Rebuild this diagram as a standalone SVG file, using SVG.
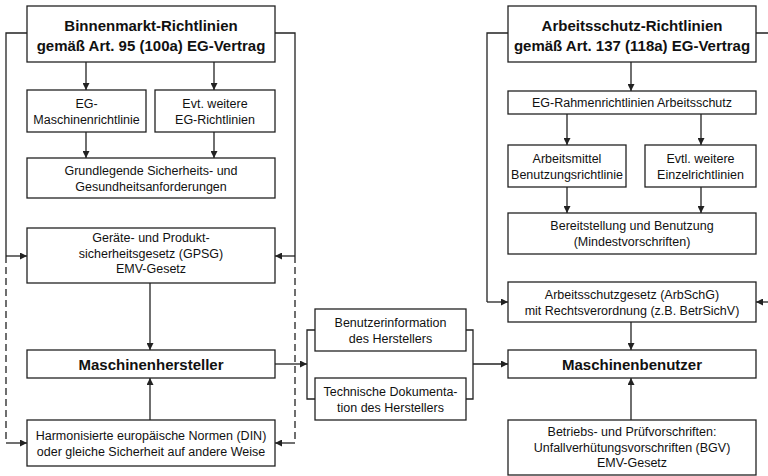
<svg xmlns="http://www.w3.org/2000/svg" width="768" height="476" viewBox="0 0 768 476">
<style>
.b{fill:#fff;stroke:#222;stroke-width:1.3}
.t{font-family:"Liberation Sans",Arial,sans-serif;font-size:12.5px;fill:#111;text-anchor:middle}
.h{font-family:"Liberation Sans",Arial,sans-serif;font-size:15px;font-weight:bold;fill:#111;text-anchor:middle}
.c{fill:none;stroke:#222;stroke-width:1.3}
.a{marker-end:url(#ah)}
.d{stroke-dasharray:7,4}
</style>
<defs>
<marker id="ah" viewBox="0 0 10 10" refX="10" refY="5" markerWidth="7" markerHeight="7" markerUnits="userSpaceOnUse" orient="auto">
<path d="M0,0L10,5L0,10z" fill="#222"/>
</marker>
</defs>
<g id="connectors">
<!-- left side -->
<path class="c" d="M27,33H6V256"/>
<path class="c a" d="M6,256H27"/>
<path class="c d" d="M6,256V443"/>
<path class="c a" d="M6,443H27"/>
<path class="c" d="M275,33H295V256"/>
<path class="c a" d="M295,256H275"/>
<path class="c d" d="M295,256V443"/>
<path class="c a" d="M295,443H275"/>
<path class="c a" d="M86,62V90"/>
<path class="c a" d="M214,62V90"/>
<path class="c a" d="M86,132V158"/>
<path class="c a" d="M214,132V158"/>
<path class="c a" d="M150,283V350"/>
<path class="c a" d="M150,420V378"/>
<path class="c a" d="M275,364H307"/>
<path class="c" d="M315,330H307V399H315"/>
<path class="c" d="M466,330H473V399H466"/>
<path class="c a" d="M473,364H508"/>
<!-- right side -->
<path class="c" d="M508,33H487V302"/>
<path class="c a" d="M487,302H508"/>
<path class="c" d="M756,33H770V302"/>
<path class="c a" d="M770,302H756"/>
<path class="c a" d="M631,62V91"/>
<path class="c a" d="M567,114V145"/>
<path class="c a" d="M701,114V145"/>
<path class="c a" d="M567,187V213"/>
<path class="c a" d="M701,187V213"/>
<path class="c a" d="M631,322V350"/>
<path class="c a" d="M631,420V378"/>
</g>
<g id="binnenmarkt">
<rect class="b" x="27" y="6" width="248" height="56"/>
<text class="h" x="151" y="31">Binnenmarkt-Richtlinien</text>
<text class="h" x="151" y="51">gemäß Art. 95 (100a) EG-Vertrag</text>
</g>
<g id="eg-maschinen">
<rect class="b" x="27" y="90" width="119" height="42"/>
<text class="t" x="86.5" y="107.5">EG-</text>
<text class="t" x="86.5" y="123.5">Maschinenrichtlinie</text>
</g>
<g id="evt-weitere">
<rect class="b" x="155" y="90" width="120" height="42"/>
<text class="t" x="215" y="107.5">Evt. weitere</text>
<text class="t" x="215" y="123.5">EG-Richtlinien</text>
</g>
<g id="grundlegende">
<rect class="b" x="27" y="158" width="248" height="40"/>
<text class="t" x="151" y="174.5">Grundlegende Sicherheits- und</text>
<text class="t" x="151" y="190.5">Gesundheitsanforderungen</text>
</g>
<g id="geraete">
<rect class="b" x="27" y="228" width="248" height="55"/>
<text class="t" x="151" y="242">Geräte- und Produkt-</text>
<text class="t" x="151" y="257.5">sicherheitsgesetz (GPSG)</text>
<text class="t" x="151" y="273">EMV-Gesetz</text>
</g>
<g id="maschinenhersteller">
<rect class="b" x="27" y="350" width="248" height="28"/>
<text class="h" x="151" y="369.5">Maschinenhersteller</text>
</g>
<g id="harmonisierte">
<rect class="b" x="27" y="420" width="248" height="46"/>
<text class="t" x="151" y="439.5">Harmonisierte europäische Normen (DIN)</text>
<text class="t" x="151" y="455.5">oder gleiche Sicherheit auf andere Weise</text>
</g>
<g id="benutzerinformation">
<rect class="b" x="315" y="309" width="151" height="42"/>
<text class="t" x="390.5" y="326.5">Benutzerinformation</text>
<text class="t" x="390.5" y="342.5">des Herstellers</text>
</g>
<g id="technische">
<rect class="b" x="315" y="378" width="151" height="42"/>
<text class="t" x="390.5" y="395.5">Technische Dokumenta-</text>
<text class="t" x="390.5" y="411.5">tion des Herstellers</text>
</g>
<g id="arbeitsschutz">
<rect class="b" x="508" y="6" width="248" height="56"/>
<text class="h" x="632" y="31">Arbeitsschutz-Richtlinien</text>
<text class="h" x="632" y="51">gemäß Art. 137 (118a) EG-Vertrag</text>
</g>
<g id="eg-rahmen">
<rect class="b" x="508" y="91" width="248" height="23"/>
<text class="t" x="632" y="107">EG-Rahmenrichtlinien Arbeitsschutz</text>
</g>
<g id="arbeitsmittel">
<rect class="b" x="508" y="145" width="118" height="42"/>
<text class="t" x="567" y="162.5">Arbeitsmittel</text>
<text class="t" x="567" y="178.5">Benutzungsrichtlinie</text>
</g>
<g id="evtl-weitere">
<rect class="b" x="645" y="145" width="111" height="42"/>
<text class="t" x="700.5" y="162.5">Evtl. weitere</text>
<text class="t" x="700.5" y="178.5">Einzelrichtlinien</text>
</g>
<g id="bereitstellung">
<rect class="b" x="508" y="213" width="248" height="41"/>
<text class="t" x="632" y="230">Bereitstellung und Benutzung</text>
<text class="t" x="632" y="246">(Mindestvorschriften)</text>
</g>
<g id="arbschg">
<rect class="b" x="508" y="282" width="248" height="40"/>
<text class="t" x="632" y="298.5">Arbeitsschutzgesetz (ArbSchG)</text>
<text class="t" x="632" y="314.5">mit Rechtsverordnung (z.B. BetrSichV)</text>
</g>
<g id="maschinenbenutzer">
<rect class="b" x="508" y="350" width="248" height="28"/>
<text class="h" x="632" y="369.5">Maschinenbenutzer</text>
</g>
<g id="betriebs">
<rect class="b" x="508" y="420" width="248" height="55"/>
<text class="t" x="632" y="436">Betriebs- und Prüfvorschriften:</text>
<text class="t" x="632" y="451.5">Unfallverhütungsvorschriften (BGV)</text>
<text class="t" x="632" y="467">EMV-Gesetz</text>
</g>
</svg>
